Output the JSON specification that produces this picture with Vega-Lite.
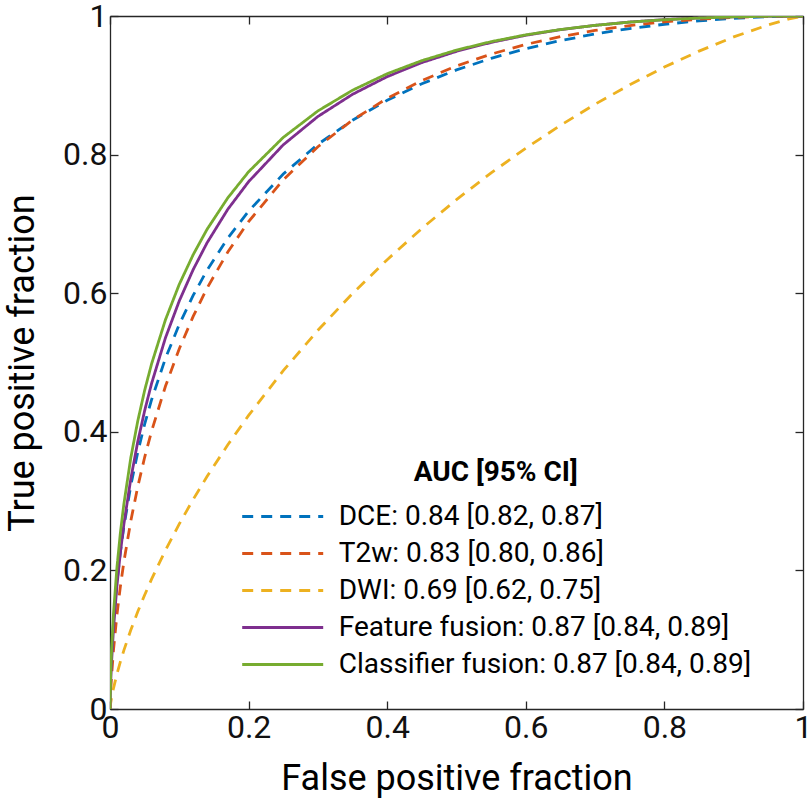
{
  "$schema": "https://vega.github.io/schema/vega-lite/v6.json",
  "width": 693,
  "height": 693,
  "autosize": {"type": "none"},
  "padding": {"left": 110, "top": 16, "right": 7, "bottom": 92},
  "background": "white",
  "config": {
    "font": "Roboto",
    "view": {"stroke": null},
    "axis": {"grid": false, "domainColor": "#262626", "tickColor": "#262626", "domainWidth": 1.3, "tickWidth": 1.3, "labelColor": "#111111", "titleColor": "#000000", "labelFlush": false, "labelOverlap": false}
  },
  "datasets": {
    "roc": [
      {"model": "DCE: 0.84 [0.82, 0.87]", "fpr": 0, "tpr": 0},
      {"model": "DCE: 0.84 [0.82, 0.87]", "fpr": 0.001, "tpr": 0.0475},
      {"model": "DCE: 0.84 [0.82, 0.87]", "fpr": 0.002, "tpr": 0.0724},
      {"model": "DCE: 0.84 [0.82, 0.87]", "fpr": 0.005, "tpr": 0.1238},
      {"model": "DCE: 0.84 [0.82, 0.87]", "fpr": 0.01, "tpr": 0.1825},
      {"model": "DCE: 0.84 [0.82, 0.87]", "fpr": 0.015, "tpr": 0.2266},
      {"model": "DCE: 0.84 [0.82, 0.87]", "fpr": 0.02, "tpr": 0.263},
      {"model": "DCE: 0.84 [0.82, 0.87]", "fpr": 0.03, "tpr": 0.3224},
      {"model": "DCE: 0.84 [0.82, 0.87]", "fpr": 0.04, "tpr": 0.3703},
      {"model": "DCE: 0.84 [0.82, 0.87]", "fpr": 0.05, "tpr": 0.411},
      {"model": "DCE: 0.84 [0.82, 0.87]", "fpr": 0.06, "tpr": 0.4463},
      {"model": "DCE: 0.84 [0.82, 0.87]", "fpr": 0.08, "tpr": 0.506},
      {"model": "DCE: 0.84 [0.82, 0.87]", "fpr": 0.1, "tpr": 0.555},
      {"model": "DCE: 0.84 [0.82, 0.87]", "fpr": 0.12, "tpr": 0.5968},
      {"model": "DCE: 0.84 [0.82, 0.87]", "fpr": 0.14, "tpr": 0.6331},
      {"model": "DCE: 0.84 [0.82, 0.87]", "fpr": 0.17, "tpr": 0.6794},
      {"model": "DCE: 0.84 [0.82, 0.87]", "fpr": 0.2, "tpr": 0.7184},
      {"model": "DCE: 0.84 [0.82, 0.87]", "fpr": 0.25, "tpr": 0.772},
      {"model": "DCE: 0.84 [0.82, 0.87]", "fpr": 0.3, "tpr": 0.8148},
      {"model": "DCE: 0.84 [0.82, 0.87]", "fpr": 0.35, "tpr": 0.8496},
      {"model": "DCE: 0.84 [0.82, 0.87]", "fpr": 0.4, "tpr": 0.8783},
      {"model": "DCE: 0.84 [0.82, 0.87]", "fpr": 0.45, "tpr": 0.9022},
      {"model": "DCE: 0.84 [0.82, 0.87]", "fpr": 0.5, "tpr": 0.9222},
      {"model": "DCE: 0.84 [0.82, 0.87]", "fpr": 0.55, "tpr": 0.9389},
      {"model": "DCE: 0.84 [0.82, 0.87]", "fpr": 0.6, "tpr": 0.9529},
      {"model": "DCE: 0.84 [0.82, 0.87]", "fpr": 0.65, "tpr": 0.9645},
      {"model": "DCE: 0.84 [0.82, 0.87]", "fpr": 0.7, "tpr": 0.9741},
      {"model": "DCE: 0.84 [0.82, 0.87]", "fpr": 0.75, "tpr": 0.9819},
      {"model": "DCE: 0.84 [0.82, 0.87]", "fpr": 0.8, "tpr": 0.9881},
      {"model": "DCE: 0.84 [0.82, 0.87]", "fpr": 0.85, "tpr": 0.993},
      {"model": "DCE: 0.84 [0.82, 0.87]", "fpr": 0.9, "tpr": 0.9966},
      {"model": "DCE: 0.84 [0.82, 0.87]", "fpr": 0.95, "tpr": 0.9989},
      {"model": "DCE: 0.84 [0.82, 0.87]", "fpr": 0.98, "tpr": 0.9997},
      {"model": "DCE: 0.84 [0.82, 0.87]", "fpr": 1, "tpr": 1},
      {"model": "T2w: 0.83 [0.80, 0.86]", "fpr": 0, "tpr": 0},
      {"model": "T2w: 0.83 [0.80, 0.86]", "fpr": 0.001, "tpr": 0.0263},
      {"model": "T2w: 0.83 [0.80, 0.86]", "fpr": 0.002, "tpr": 0.044},
      {"model": "T2w: 0.83 [0.80, 0.86]", "fpr": 0.005, "tpr": 0.0847},
      {"model": "T2w: 0.83 [0.80, 0.86]", "fpr": 0.01, "tpr": 0.1359},
      {"model": "T2w: 0.83 [0.80, 0.86]", "fpr": 0.015, "tpr": 0.177},
      {"model": "T2w: 0.83 [0.80, 0.86]", "fpr": 0.02, "tpr": 0.2121},
      {"model": "T2w: 0.83 [0.80, 0.86]", "fpr": 0.03, "tpr": 0.2713},
      {"model": "T2w: 0.83 [0.80, 0.86]", "fpr": 0.04, "tpr": 0.3206},
      {"model": "T2w: 0.83 [0.80, 0.86]", "fpr": 0.05, "tpr": 0.3632},
      {"model": "T2w: 0.83 [0.80, 0.86]", "fpr": 0.06, "tpr": 0.4009},
      {"model": "T2w: 0.83 [0.80, 0.86]", "fpr": 0.08, "tpr": 0.4657},
      {"model": "T2w: 0.83 [0.80, 0.86]", "fpr": 0.1, "tpr": 0.5199},
      {"model": "T2w: 0.83 [0.80, 0.86]", "fpr": 0.12, "tpr": 0.5665},
      {"model": "T2w: 0.83 [0.80, 0.86]", "fpr": 0.14, "tpr": 0.6072},
      {"model": "T2w: 0.83 [0.80, 0.86]", "fpr": 0.17, "tpr": 0.6595},
      {"model": "T2w: 0.83 [0.80, 0.86]", "fpr": 0.2, "tpr": 0.7033},
      {"model": "T2w: 0.83 [0.80, 0.86]", "fpr": 0.25, "tpr": 0.7636},
      {"model": "T2w: 0.83 [0.80, 0.86]", "fpr": 0.3, "tpr": 0.8114},
      {"model": "T2w: 0.83 [0.80, 0.86]", "fpr": 0.35, "tpr": 0.8499},
      {"model": "T2w: 0.83 [0.80, 0.86]", "fpr": 0.4, "tpr": 0.8812},
      {"model": "T2w: 0.83 [0.80, 0.86]", "fpr": 0.45, "tpr": 0.9069},
      {"model": "T2w: 0.83 [0.80, 0.86]", "fpr": 0.5, "tpr": 0.9279},
      {"model": "T2w: 0.83 [0.80, 0.86]", "fpr": 0.55, "tpr": 0.945},
      {"model": "T2w: 0.83 [0.80, 0.86]", "fpr": 0.6, "tpr": 0.959},
      {"model": "T2w: 0.83 [0.80, 0.86]", "fpr": 0.65, "tpr": 0.9702},
      {"model": "T2w: 0.83 [0.80, 0.86]", "fpr": 0.7, "tpr": 0.9792},
      {"model": "T2w: 0.83 [0.80, 0.86]", "fpr": 0.75, "tpr": 0.9862},
      {"model": "T2w: 0.83 [0.80, 0.86]", "fpr": 0.8, "tpr": 0.9915},
      {"model": "T2w: 0.83 [0.80, 0.86]", "fpr": 0.85, "tpr": 0.9953},
      {"model": "T2w: 0.83 [0.80, 0.86]", "fpr": 0.9, "tpr": 0.9979},
      {"model": "T2w: 0.83 [0.80, 0.86]", "fpr": 0.95, "tpr": 0.9995},
      {"model": "T2w: 0.83 [0.80, 0.86]", "fpr": 0.98, "tpr": 0.9999},
      {"model": "T2w: 0.83 [0.80, 0.86]", "fpr": 1, "tpr": 1},
      {"model": "DWI: 0.69 [0.62, 0.75]", "fpr": 0, "tpr": 0},
      {"model": "DWI: 0.69 [0.62, 0.75]", "fpr": 0.001, "tpr": 0.0085},
      {"model": "DWI: 0.69 [0.62, 0.75]", "fpr": 0.002, "tpr": 0.0147},
      {"model": "DWI: 0.69 [0.62, 0.75]", "fpr": 0.005, "tpr": 0.0298},
      {"model": "DWI: 0.69 [0.62, 0.75]", "fpr": 0.01, "tpr": 0.0505},
      {"model": "DWI: 0.69 [0.62, 0.75]", "fpr": 0.015, "tpr": 0.0684},
      {"model": "DWI: 0.69 [0.62, 0.75]", "fpr": 0.02, "tpr": 0.0846},
      {"model": "DWI: 0.69 [0.62, 0.75]", "fpr": 0.03, "tpr": 0.1139},
      {"model": "DWI: 0.69 [0.62, 0.75]", "fpr": 0.04, "tpr": 0.1403},
      {"model": "DWI: 0.69 [0.62, 0.75]", "fpr": 0.05, "tpr": 0.1645},
      {"model": "DWI: 0.69 [0.62, 0.75]", "fpr": 0.06, "tpr": 0.1873},
      {"model": "DWI: 0.69 [0.62, 0.75]", "fpr": 0.08, "tpr": 0.2291},
      {"model": "DWI: 0.69 [0.62, 0.75]", "fpr": 0.1, "tpr": 0.2671},
      {"model": "DWI: 0.69 [0.62, 0.75]", "fpr": 0.12, "tpr": 0.3024},
      {"model": "DWI: 0.69 [0.62, 0.75]", "fpr": 0.14, "tpr": 0.3354},
      {"model": "DWI: 0.69 [0.62, 0.75]", "fpr": 0.17, "tpr": 0.3813},
      {"model": "DWI: 0.69 [0.62, 0.75]", "fpr": 0.2, "tpr": 0.4236},
      {"model": "DWI: 0.69 [0.62, 0.75]", "fpr": 0.25, "tpr": 0.4882},
      {"model": "DWI: 0.69 [0.62, 0.75]", "fpr": 0.3, "tpr": 0.5465},
      {"model": "DWI: 0.69 [0.62, 0.75]", "fpr": 0.35, "tpr": 0.5996},
      {"model": "DWI: 0.69 [0.62, 0.75]", "fpr": 0.4, "tpr": 0.6484},
      {"model": "DWI: 0.69 [0.62, 0.75]", "fpr": 0.45, "tpr": 0.6934},
      {"model": "DWI: 0.69 [0.62, 0.75]", "fpr": 0.5, "tpr": 0.735},
      {"model": "DWI: 0.69 [0.62, 0.75]", "fpr": 0.55, "tpr": 0.7736},
      {"model": "DWI: 0.69 [0.62, 0.75]", "fpr": 0.6, "tpr": 0.8092},
      {"model": "DWI: 0.69 [0.62, 0.75]", "fpr": 0.65, "tpr": 0.8422},
      {"model": "DWI: 0.69 [0.62, 0.75]", "fpr": 0.7, "tpr": 0.8727},
      {"model": "DWI: 0.69 [0.62, 0.75]", "fpr": 0.75, "tpr": 0.9007},
      {"model": "DWI: 0.69 [0.62, 0.75]", "fpr": 0.8, "tpr": 0.9263},
      {"model": "DWI: 0.69 [0.62, 0.75]", "fpr": 0.85, "tpr": 0.9493},
      {"model": "DWI: 0.69 [0.62, 0.75]", "fpr": 0.9, "tpr": 0.9698},
      {"model": "DWI: 0.69 [0.62, 0.75]", "fpr": 0.95, "tpr": 0.9872},
      {"model": "DWI: 0.69 [0.62, 0.75]", "fpr": 0.98, "tpr": 0.9957},
      {"model": "DWI: 0.69 [0.62, 0.75]", "fpr": 1, "tpr": 1},
      {"model": "Feature fusion: 0.87 [0.84, 0.89]", "fpr": 0, "tpr": 0},
      {"model": "Feature fusion: 0.87 [0.84, 0.89]", "fpr": 0.001, "tpr": 0.0389},
      {"model": "Feature fusion: 0.87 [0.84, 0.89]", "fpr": 0.002, "tpr": 0.0629},
      {"model": "Feature fusion: 0.87 [0.84, 0.89]", "fpr": 0.005, "tpr": 0.1153},
      {"model": "Feature fusion: 0.87 [0.84, 0.89]", "fpr": 0.01, "tpr": 0.1778},
      {"model": "Feature fusion: 0.87 [0.84, 0.89]", "fpr": 0.015, "tpr": 0.226},
      {"model": "Feature fusion: 0.87 [0.84, 0.89]", "fpr": 0.02, "tpr": 0.2663},
      {"model": "Feature fusion: 0.87 [0.84, 0.89]", "fpr": 0.03, "tpr": 0.3321},
      {"model": "Feature fusion: 0.87 [0.84, 0.89]", "fpr": 0.04, "tpr": 0.3855},
      {"model": "Feature fusion: 0.87 [0.84, 0.89]", "fpr": 0.05, "tpr": 0.4305},
      {"model": "Feature fusion: 0.87 [0.84, 0.89]", "fpr": 0.06, "tpr": 0.4697},
      {"model": "Feature fusion: 0.87 [0.84, 0.89]", "fpr": 0.08, "tpr": 0.5355},
      {"model": "Feature fusion: 0.87 [0.84, 0.89]", "fpr": 0.1, "tpr": 0.589},
      {"model": "Feature fusion: 0.87 [0.84, 0.89]", "fpr": 0.12, "tpr": 0.634},
      {"model": "Feature fusion: 0.87 [0.84, 0.89]", "fpr": 0.14, "tpr": 0.6726},
      {"model": "Feature fusion: 0.87 [0.84, 0.89]", "fpr": 0.17, "tpr": 0.7211},
      {"model": "Feature fusion: 0.87 [0.84, 0.89]", "fpr": 0.2, "tpr": 0.7609},
      {"model": "Feature fusion: 0.87 [0.84, 0.89]", "fpr": 0.25, "tpr": 0.8141},
      {"model": "Feature fusion: 0.87 [0.84, 0.89]", "fpr": 0.3, "tpr": 0.855},
      {"model": "Feature fusion: 0.87 [0.84, 0.89]", "fpr": 0.35, "tpr": 0.887},
      {"model": "Feature fusion: 0.87 [0.84, 0.89]", "fpr": 0.4, "tpr": 0.9125},
      {"model": "Feature fusion: 0.87 [0.84, 0.89]", "fpr": 0.45, "tpr": 0.9328},
      {"model": "Feature fusion: 0.87 [0.84, 0.89]", "fpr": 0.5, "tpr": 0.949},
      {"model": "Feature fusion: 0.87 [0.84, 0.89]", "fpr": 0.55, "tpr": 0.9619},
      {"model": "Feature fusion: 0.87 [0.84, 0.89]", "fpr": 0.6, "tpr": 0.9722},
      {"model": "Feature fusion: 0.87 [0.84, 0.89]", "fpr": 0.65, "tpr": 0.9803},
      {"model": "Feature fusion: 0.87 [0.84, 0.89]", "fpr": 0.7, "tpr": 0.9865},
      {"model": "Feature fusion: 0.87 [0.84, 0.89]", "fpr": 0.75, "tpr": 0.9913},
      {"model": "Feature fusion: 0.87 [0.84, 0.89]", "fpr": 0.8, "tpr": 0.9948},
      {"model": "Feature fusion: 0.87 [0.84, 0.89]", "fpr": 0.85, "tpr": 0.9972},
      {"model": "Feature fusion: 0.87 [0.84, 0.89]", "fpr": 0.9, "tpr": 0.9988},
      {"model": "Feature fusion: 0.87 [0.84, 0.89]", "fpr": 0.95, "tpr": 0.9997},
      {"model": "Feature fusion: 0.87 [0.84, 0.89]", "fpr": 0.98, "tpr": 1},
      {"model": "Feature fusion: 0.87 [0.84, 0.89]", "fpr": 1, "tpr": 1},
      {"model": "Classifier fusion: 0.87 [0.84, 0.89]", "fpr": 0, "tpr": 0},
      {"model": "Classifier fusion: 0.87 [0.84, 0.89]", "fpr": 0.001, "tpr": 0.0504},
      {"model": "Classifier fusion: 0.87 [0.84, 0.89]", "fpr": 0.002, "tpr": 0.0785},
      {"model": "Classifier fusion: 0.87 [0.84, 0.89]", "fpr": 0.005, "tpr": 0.1372},
      {"model": "Classifier fusion: 0.87 [0.84, 0.89]", "fpr": 0.01, "tpr": 0.2041},
      {"model": "Classifier fusion: 0.87 [0.84, 0.89]", "fpr": 0.015, "tpr": 0.2546},
      {"model": "Classifier fusion: 0.87 [0.84, 0.89]", "fpr": 0.02, "tpr": 0.2957},
      {"model": "Classifier fusion: 0.87 [0.84, 0.89]", "fpr": 0.03, "tpr": 0.3624},
      {"model": "Classifier fusion: 0.87 [0.84, 0.89]", "fpr": 0.04, "tpr": 0.4153},
      {"model": "Classifier fusion: 0.87 [0.84, 0.89]", "fpr": 0.05, "tpr": 0.4598},
      {"model": "Classifier fusion: 0.87 [0.84, 0.89]", "fpr": 0.06, "tpr": 0.498},
      {"model": "Classifier fusion: 0.87 [0.84, 0.89]", "fpr": 0.08, "tpr": 0.5616},
      {"model": "Classifier fusion: 0.87 [0.84, 0.89]", "fpr": 0.1, "tpr": 0.6129},
      {"model": "Classifier fusion: 0.87 [0.84, 0.89]", "fpr": 0.12, "tpr": 0.6555},
      {"model": "Classifier fusion: 0.87 [0.84, 0.89]", "fpr": 0.14, "tpr": 0.6921},
      {"model": "Classifier fusion: 0.87 [0.84, 0.89]", "fpr": 0.17, "tpr": 0.7376},
      {"model": "Classifier fusion: 0.87 [0.84, 0.89]", "fpr": 0.2, "tpr": 0.7752},
      {"model": "Classifier fusion: 0.87 [0.84, 0.89]", "fpr": 0.25, "tpr": 0.8248},
      {"model": "Classifier fusion: 0.87 [0.84, 0.89]", "fpr": 0.3, "tpr": 0.863},
      {"model": "Classifier fusion: 0.87 [0.84, 0.89]", "fpr": 0.35, "tpr": 0.8929},
      {"model": "Classifier fusion: 0.87 [0.84, 0.89]", "fpr": 0.4, "tpr": 0.9167},
      {"model": "Classifier fusion: 0.87 [0.84, 0.89]", "fpr": 0.45, "tpr": 0.9356},
      {"model": "Classifier fusion: 0.87 [0.84, 0.89]", "fpr": 0.5, "tpr": 0.9508},
      {"model": "Classifier fusion: 0.87 [0.84, 0.89]", "fpr": 0.55, "tpr": 0.963},
      {"model": "Classifier fusion: 0.87 [0.84, 0.89]", "fpr": 0.6, "tpr": 0.9728},
      {"model": "Classifier fusion: 0.87 [0.84, 0.89]", "fpr": 0.65, "tpr": 0.9805},
      {"model": "Classifier fusion: 0.87 [0.84, 0.89]", "fpr": 0.7, "tpr": 0.9865},
      {"model": "Classifier fusion: 0.87 [0.84, 0.89]", "fpr": 0.75, "tpr": 0.9912},
      {"model": "Classifier fusion: 0.87 [0.84, 0.89]", "fpr": 0.8, "tpr": 0.9946},
      {"model": "Classifier fusion: 0.87 [0.84, 0.89]", "fpr": 0.85, "tpr": 0.9971},
      {"model": "Classifier fusion: 0.87 [0.84, 0.89]", "fpr": 0.9, "tpr": 0.9987},
      {"model": "Classifier fusion: 0.87 [0.84, 0.89]", "fpr": 0.95, "tpr": 0.9997},
      {"model": "Classifier fusion: 0.87 [0.84, 0.89]", "fpr": 0.98, "tpr": 1},
      {"model": "Classifier fusion: 0.87 [0.84, 0.89]", "fpr": 1, "tpr": 1}
    ]
  },
  "data": {"name": "roc"},
  "layer": [
    {
      "mark": {"type": "line", "strokeWidth": 2.8, "clip": true},
      "encoding": {
        "x": {"field": "fpr", "type": "quantitative", "scale": {"domain": [0, 1], "nice": false, "zero": false},
          "axis": {"orient": "bottom", "values": [0, 0.2, 0.4, 0.6, 0.8, 1], "format": "~g", "tickSize": -8, "labelPadding": 36, "labelFontSize": 32, "labelBaseline": "alphabetic", "title": "False positive fraction", "titleFontSize": 36, "titleFontWeight": "normal", "titleX": 346.5, "titleY": 80, "titleBaseline": "alphabetic", "titleAlign": "center"}},
        "y": {"field": "tpr", "type": "quantitative", "scale": {"domain": [0, 1], "nice": false, "zero": false},
          "axis": {"orient": "left", "values": [0, 0.2, 0.4, 0.6, 0.8, 1], "format": "~g", "tickSize": -8, "labelPadding": 11, "labelFontSize": 32, "labelBaseline": "middle", "title": "True positive fraction", "titleFontSize": 36, "titleFontWeight": "normal", "titleX": -77, "titleY": 346.5, "titleAngle": -90, "titleBaseline": "alphabetic", "titleAlign": "center"}},
        "color": {"field": "model", "type": "nominal", "title": "AUC [95% CI]",
          "sort": ["DCE: 0.84 [0.82, 0.87]", "T2w: 0.83 [0.80, 0.86]", "DWI: 0.69 [0.62, 0.75]", "Feature fusion: 0.87 [0.84, 0.89]", "Classifier fusion: 0.87 [0.84, 0.89]"],
          "scale": {"domain": ["DCE: 0.84 [0.82, 0.87]", "T2w: 0.83 [0.80, 0.86]", "DWI: 0.69 [0.62, 0.75]", "Feature fusion: 0.87 [0.84, 0.89]", "Classifier fusion: 0.87 [0.84, 0.89]"], "range": ["#0072BD", "#D95319", "#EDB120", "#7E2F8E", "#77AC30"]},
          "legend": {"orient": "none", "legendX": 130.7, "legendY": 443, "titleFontSize": 28, "titleFontWeight": "bold", "titleColor": "#000000", "titleAnchor": "middle", "titlePadding": 12, "labelFontSize": 28, "labelColor": "#000000", "labelLimit": 0, "symbolType": "stroke", "symbolSize": 6561, "symbolStrokeWidth": 2.8, "clipHeight": 35, "rowPadding": 2, "labelOffset": 14}},
        "strokeDash": {"field": "model", "type": "nominal", "title": "AUC [95% CI]",
          "sort": ["DCE: 0.84 [0.82, 0.87]", "T2w: 0.83 [0.80, 0.86]", "DWI: 0.69 [0.62, 0.75]", "Feature fusion: 0.87 [0.84, 0.89]", "Classifier fusion: 0.87 [0.84, 0.89]"],
          "scale": {"domain": ["DCE: 0.84 [0.82, 0.87]", "T2w: 0.83 [0.80, 0.86]", "DWI: 0.69 [0.62, 0.75]", "Feature fusion: 0.87 [0.84, 0.89]", "Classifier fusion: 0.87 [0.84, 0.89]"], "range": [[11, 8], [11, 8], [11, 8], [1, 0], [1, 0]]}}
      }
    },
    {
      "mark": {"type": "point", "opacity": 0},
      "encoding": {
        "x": {"field": "fpr", "type": "quantitative", "axis": {"orient": "top", "values": [0, 0.2, 0.4, 0.6, 0.8, 1], "tickSize": -8, "labels": false, "title": null}},
        "y": {"field": "tpr", "type": "quantitative", "axis": {"orient": "right", "values": [0, 0.2, 0.4, 0.6, 0.8, 1], "tickSize": -8, "labels": false, "title": null}}
      }
    }
  ],
  "resolve": {"axis": {"x": "independent", "y": "independent"}}
}
